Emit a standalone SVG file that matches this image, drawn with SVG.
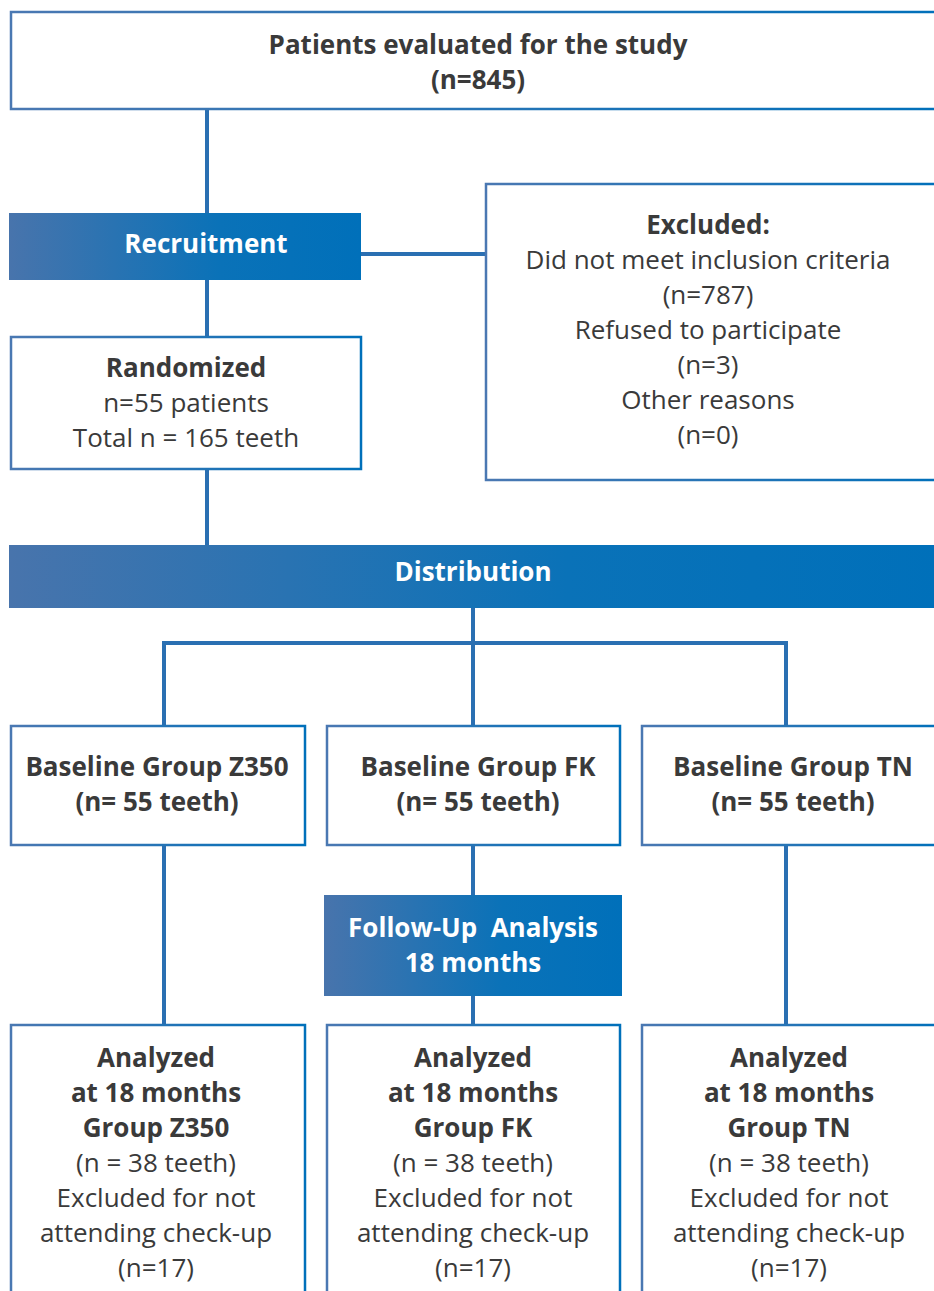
<svg xmlns="http://www.w3.org/2000/svg" width="934" height="1291" viewBox="0 0 934 1291">
<defs>
<linearGradient id="g" x1="0" y1="0" x2="1" y2="0">
<stop offset="0" stop-color="#4874ac"/>
<stop offset="0.6" stop-color="#0a72b8"/>
<stop offset="1" stop-color="#0070ba"/>
</linearGradient>
<linearGradient id="gs" x1="0" y1="0" x2="1" y2="0">
<stop offset="0" stop-color="#4a78b2"/>
<stop offset="1" stop-color="#0070ba"/>
</linearGradient>
<style>
.box{fill:#fff;stroke:url(#gs);stroke-width:2.5}
.bar{fill:url(#g)}
.ln{stroke:#2a6fb2;stroke-width:4;fill:none}
text{font-family:"Open Sans",Lato,"Liberation Sans",sans-serif;font-size:26px;fill:#3a3a3a;text-anchor:middle}
.b{font-weight:700}
.w{fill:#fff;font-weight:700}
.pre{white-space:pre}
</style>
</defs>
<g id="connectors">
<line class="ln" x1="207" y1="109" x2="207" y2="213"/>
<line class="ln" x1="361" y1="254" x2="486" y2="254"/>
<line class="ln" x1="207" y1="280" x2="207" y2="336"/>
<line class="ln" x1="207" y1="469" x2="207" y2="545"/>
<line class="ln" x1="473" y1="608" x2="473" y2="725"/>
<polyline class="ln" points="164,725 164,643 786,643 786,725"/>
<line class="ln" x1="164" y1="845" x2="164" y2="1024"/>
<line class="ln" x1="473" y1="845" x2="473" y2="895"/>
<line class="ln" x1="473" y1="996" x2="473" y2="1024"/>
<line class="ln" x1="786" y1="845" x2="786" y2="1024"/>
</g>
<g id="evaluated">
<rect class="box" x="11" y="12" width="940" height="97"/>
<text class="b" x="478" y="54">Patients evaluated for the study</text>
<text class="b" x="478" y="89">(n=845)</text>
</g>
<g id="recruitment">
<rect class="bar" x="9" y="213" width="352" height="67"/>
<text class="w" x="206" y="253">Recruitment</text>
</g>
<g id="excluded">
<rect class="box" x="486" y="184" width="460" height="296"/>
<text class="b" x="708" y="234">Excluded:</text>
<text x="708" y="269">Did not meet inclusion criteria</text>
<text x="708" y="304">(n=787)</text>
<text x="708" y="339">Refused to participate</text>
<text x="708" y="374">(n=3)</text>
<text x="708" y="409">Other reasons</text>
<text x="708" y="444">(n=0)</text>
</g>
<g id="randomized">
<rect class="box" x="11" y="337" width="350" height="132"/>
<text class="b" x="186" y="377">Randomized</text>
<text x="186" y="412">n=55 patients</text>
<text x="186" y="447">Total n = 165 teeth</text>
</g>
<g id="distribution">
<rect class="bar" x="9" y="545" width="930" height="63"/>
<text class="w" x="473" y="581">Distribution</text>
</g>
<g id="baseline-z350">
<rect class="box" x="11" y="726" width="294" height="119"/>
<text class="b" x="157" y="776">Baseline Group Z350</text>
<text class="b" x="157" y="811">(n= 55 teeth)</text>
</g>
<g id="baseline-fk">
<rect class="box" x="327" y="726" width="293" height="119"/>
<text class="b" x="478" y="776">Baseline Group FK</text>
<text class="b" x="478" y="811">(n= 55 teeth)</text>
</g>
<g id="baseline-tn">
<rect class="box" x="642" y="726" width="300" height="119"/>
<text class="b" x="793" y="776">Baseline Group TN</text>
<text class="b" x="793" y="811">(n= 55 teeth)</text>
</g>
<g id="followup">
<rect class="bar" x="324" y="895" width="298" height="101"/>
<text class="w pre" x="473" y="937">Follow-Up  Analysis</text>
<text class="w" x="473" y="972">18 months</text>
</g>
<g id="analyzed-z350">
<rect class="box" x="11" y="1025" width="294" height="280"/>
<text class="b" x="156" y="1067">Analyzed</text>
<text class="b" x="156" y="1102">at 18 months</text>
<text class="b" x="156" y="1137">Group Z350</text>
<text x="156" y="1172">(n = 38 teeth)</text>
<text x="156" y="1207">Excluded for not</text>
<text x="156" y="1242">attending check-up</text>
<text x="156" y="1277">(n=17)</text>
</g>
<g id="analyzed-fk">
<rect class="box" x="327" y="1025" width="293" height="280"/>
<text class="b" x="473" y="1067">Analyzed</text>
<text class="b" x="473" y="1102">at 18 months</text>
<text class="b" x="473" y="1137">Group FK</text>
<text x="473" y="1172">(n = 38 teeth)</text>
<text x="473" y="1207">Excluded for not</text>
<text x="473" y="1242">attending check-up</text>
<text x="473" y="1277">(n=17)</text>
</g>
<g id="analyzed-tn">
<rect class="box" x="642" y="1025" width="300" height="280"/>
<text class="b" x="789" y="1067">Analyzed</text>
<text class="b" x="789" y="1102">at 18 months</text>
<text class="b" x="789" y="1137">Group TN</text>
<text x="789" y="1172">(n = 38 teeth)</text>
<text x="789" y="1207">Excluded for not</text>
<text x="789" y="1242">attending check-up</text>
<text x="789" y="1277">(n=17)</text>
</g>
</svg>
